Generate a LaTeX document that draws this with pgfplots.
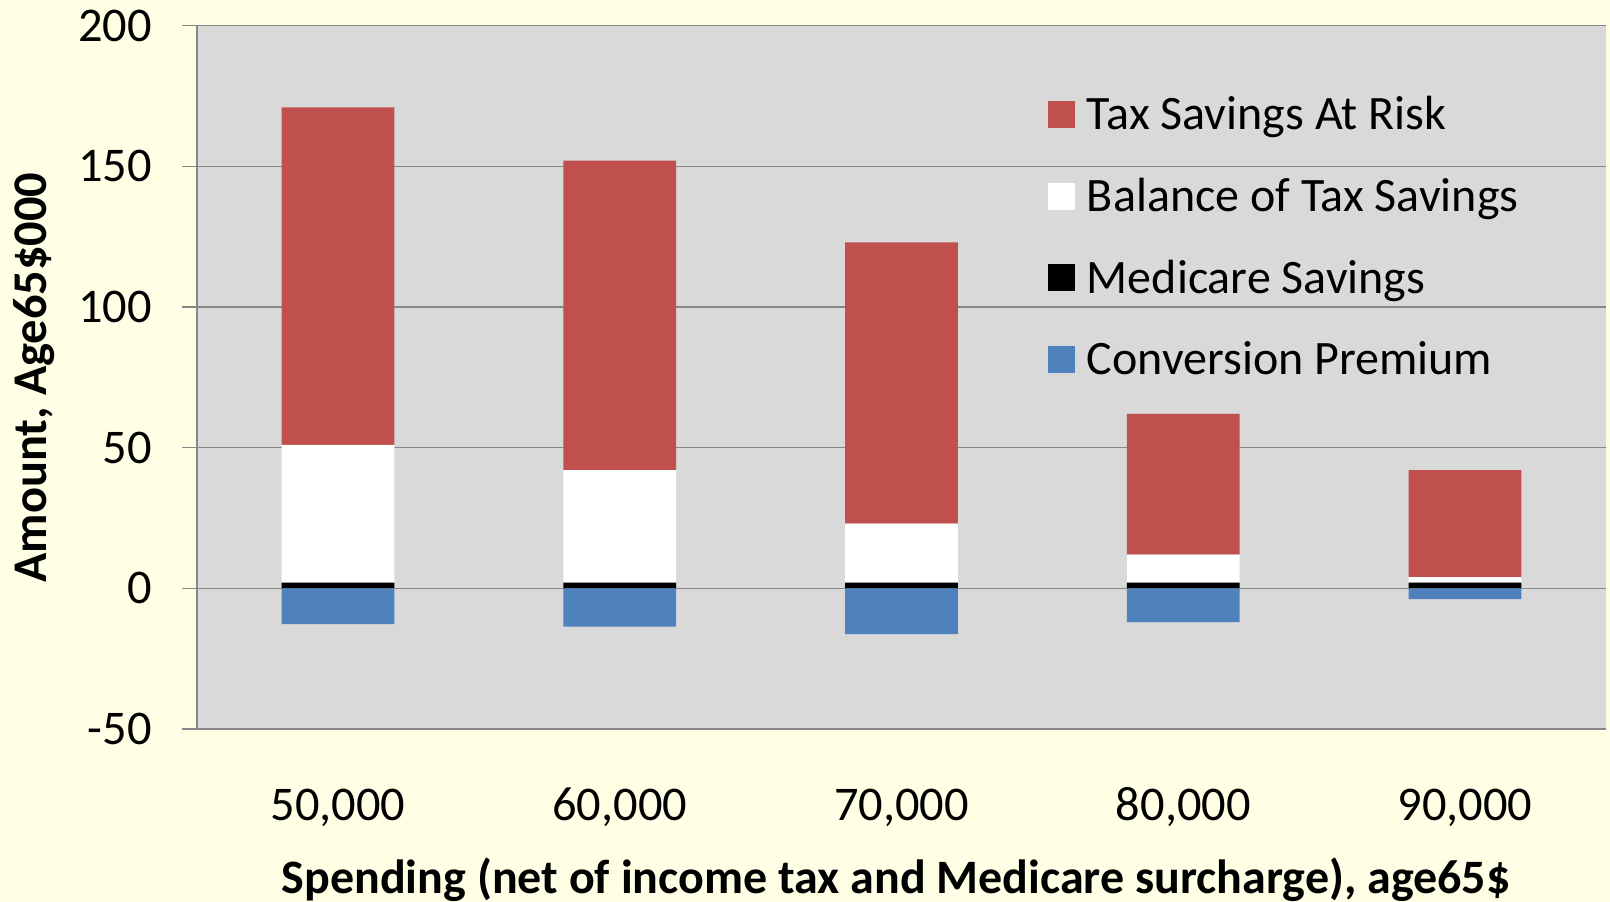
\documentclass[border=0pt]{standalone}
\usepackage{pgfplots}
\pgfplotsset{compat=1.18}
\usepackage{fontspec}
\setmainfont{Carlito}
\definecolor{cream}{HTML}{FFFFE5}
\definecolor{plotbg}{HTML}{D9D9D9}
\definecolor{gridc}{HTML}{878787}
\definecolor{redbar}{HTML}{C0504D}
\definecolor{bluebar}{HTML}{4F81BD}
\newcommand{\bigfont}{\fontsize{24.2bp}{29bp}\selectfont}
\begin{document}
\begin{tikzpicture}
\fill[cream] (-98.5bp,-86.5bp) rectangle (706.5bp,364.5bp);
\begin{axis}[
  scale only axis, width=704.5bp, height=351.65bp,
  at={(0,0)}, anchor=south west,
  ybar stacked, bar width=0.4,
  xmin=-0.5, xmax=4.5, ymin=-50, ymax=200,
  xtick={0,1,2,3,4},
  xticklabels={{50,000},{60,000},{70,000},{80,000},{90,000}},
  ytick={-50,0,50,100,150,200},
  /pgf/number format/assume math mode=true,
  ticklabel style={font=\bigfont},
  xticklabel style={anchor=base, yshift=-38.3bp},
  yticklabel style={anchor=east, inner sep=0pt, xshift=-15bp},
  axis background/.style={fill=plotbg},
  axis lines*=left,
  axis line style={gridc, line width=0.75bp},
  tick align=outside,
  major tick length=7.5bp,
  ytick style={gridc, line width=0.75bp},
  xtick style={draw=none},
  ymajorgrids,
  major grid style={gridc, line width=0.75bp},
  reverse legend,
  legend cell align=left,
  legend image code/.code={\fill[#1] (0bp,-6.75bp) rectangle (13.5bp,6.75bp);},
  legend style={draw=none, fill=none, at={(0.5994,0.912)}, anchor=north west,
    font=\fontsize{24bp}{29bp}\selectfont, row sep=18.8bp,
    /tikz/every odd column/.append style={column sep=4bp}},
]
\addplot[fill=bluebar, draw=none] coordinates {(0,-12.7) (1,-13.6) (2,-16.3) (3,-12.0) (4,-3.8)};
\addlegendentry{Conversion Premium}
\addplot[fill=black, draw=none] coordinates {(0,2) (1,2) (2,2) (3,2) (4,2)};
\addlegendentry{Medicare Savings}
\addplot[fill=white, draw=none] coordinates {(0,49) (1,40) (2,21) (3,10) (4,2)};
\addlegendentry{Balance of Tax Savings}
\addplot[fill=redbar, draw=none] coordinates {(0,120) (1,110) (2,100) (3,50) (4,38)};
\addlegendentry{Tax Savings At Risk}
\end{axis}
\node[font=\fontsize{24bp}{29bp}\selectfont\bfseries, anchor=base] at (349.5bp,-82bp) {Spending (net of income tax and Medicare surcharge), age65\$};
\node[font=\bigfont\bfseries, anchor=base, rotate=90] at (-75bp,175.75bp) {Amount, Age65\$000};
\pgfresetboundingbox
\path (-98.5bp,-86.5bp) rectangle (706.5bp,364.5bp);
\end{tikzpicture}
\end{document}
